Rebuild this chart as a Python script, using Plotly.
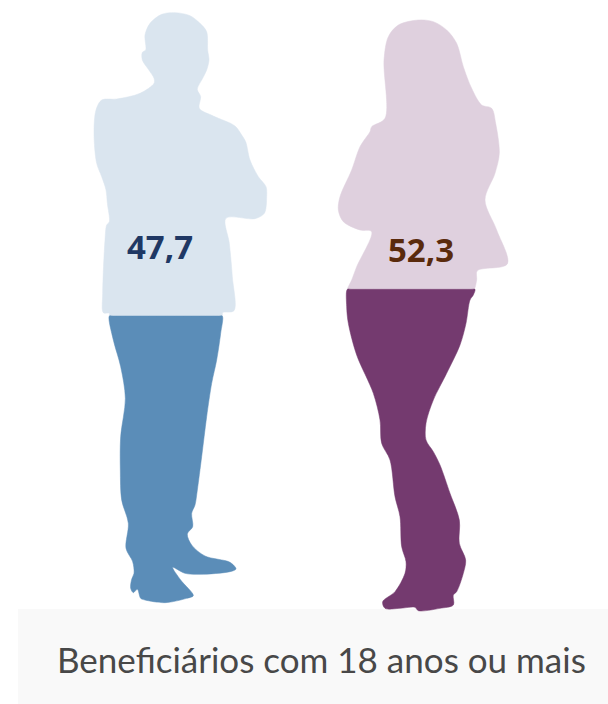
import plotly.graph_objects as go

# Outlines: (x, y) in picture pixels via crop origin
MAN_UPPER_ORIGIN = (80, 0)
man_upper = [(285,38),(330,47),(360,70),(380,95),(383,150),(387,180),(380,210),(368,235),(352,268),(362,290),(358,325),(400,348),(465,378),(485,405),(497,425),(510,480),(535,530),(558,560),(560,590),(553,640),(525,656),(438,655),(448,730),(457,830),(462,932),(428,938),(427,948),(420,948),(100,948),(88,948),(88,940),(70,938),(68,880),(75,720),(80,675),(88,665),(82,610),(78,570),(65,530),(50,490),(42,400),(48,330),(65,300),(110,297),(180,280),(222,250),(222,235),(205,208),(187,180),(187,157),(197,150),(195,105),(210,70),(245,43)]
MAN_LOWER_ORIGIN = (90, 310)
man_lower = [(58,18),(70,18),(385,18),(397,18),(392,70),(380,150),(365,220),(350,320),(335,440),(322,540),(315,585),(305,610),(308,650),(292,672),(305,705),(345,738),(420,757),(438,777),(420,785),(330,793),(285,790),(248,772),(272,810),(310,857),(290,865),(225,878),(165,870),(152,865),(142,838),(130,848),(122,835),(125,808),(132,790),(128,755),(108,715),(115,640),(95,570),(91,480),(92,380),(106,265),(92,170),(70,90)]
WOMAN_UPPER_ORIGIN = (330, 10)
woman_upper = [(265,30),(310,35),(350,60),(380,100),(400,170),(425,235),(455,285),(485,295),(497,340),(508,430),(495,490),(465,570),(500,660),(532,762),(442,782),(440,810),(432,838),(420,838),(65,838),(53,838),(65,810),(80,770),(125,665),(90,660),(40,635),(25,600),(30,560),(65,480),(90,410),(120,365),(125,350),(165,325),(162,150),(175,80),(205,45)]
WOMAN_LOWER_ORIGIN = (340, 280)
woman_lower = [(22,28),(35,28),(392,28),(405,28),(400,45),(390,60),(378,130),(360,195),(320,280),(280,360),(258,430),(258,480),(280,515),(300,555),(330,640),(358,720),(358,790),(377,840),(370,880),(350,935),(340,945),(340,975),(300,985),(235,992),(225,982),(180,985),(135,985),(128,965),(165,935),(195,880),(198,845),(185,800),(180,710),(165,650),(150,540),(125,490),(120,420),(100,340),(50,225),(25,130),(20,80)]

labels = ["47,7", "52,3"]
caption = "Beneficiários com 18 anos ou mais"

def outline(points, origin):
    xs = [origin[0] + p[0] / 3 for p in points]
    ys = [origin[1] + p[1] / 3 for p in points]
    return xs + xs[:1], ys + ys[:1]

fig = go.Figure()
for pts, org, col in [(man_upper, MAN_UPPER_ORIGIN, "#DAE5EF"), (man_lower, MAN_LOWER_ORIGIN, "#5B8DB8"),
                      (woman_upper, WOMAN_UPPER_ORIGIN, "#DFD0DE"), (woman_lower, WOMAN_LOWER_ORIGIN, "#743A6F")]:
    x, y = outline(pts, org)
    fig.add_trace(go.Scatter(x=x, y=y, mode="lines", fill="toself", fillcolor=col,
                             line=dict(color=col, width=0.5, shape="spline", smoothing=0.9),
                             hoverinfo="skip", showlegend=False))

fig.add_shape(type="rect", x0=18, x1=608, y0=609, y1=704, fillcolor="#F9F9F9", line_width=0, layer="below")
fig.add_annotation(x=160, y=246, text=f"<b>{labels[0]}</b>", showarrow=False,
                   font=dict(family="Open Sans", size=33, color="#1F3864"))
fig.add_annotation(x=421, y=249, text=f"<b>{labels[1]}</b>", showarrow=False,
                   font=dict(family="Open Sans", size=33, color="#5A2A0C"))
fig.add_annotation(x=321.5, y=658.5, text=caption, showarrow=False,
                   font=dict(family="Lato", size=35, color="#484848"))

fig.update_layout(width=608, height=704, margin=dict(l=0, r=0, t=0, b=0),
                  paper_bgcolor="white", plot_bgcolor="white",
                  xaxis=dict(range=[0, 608], visible=False, fixedrange=True),
                  yaxis=dict(range=[704, 0], visible=False, fixedrange=True))
fig.write_html("out.html", config={"displayModeBar": False},
               post_script="document.body.style.margin='0';document.documentElement.style.overflow='hidden';")
